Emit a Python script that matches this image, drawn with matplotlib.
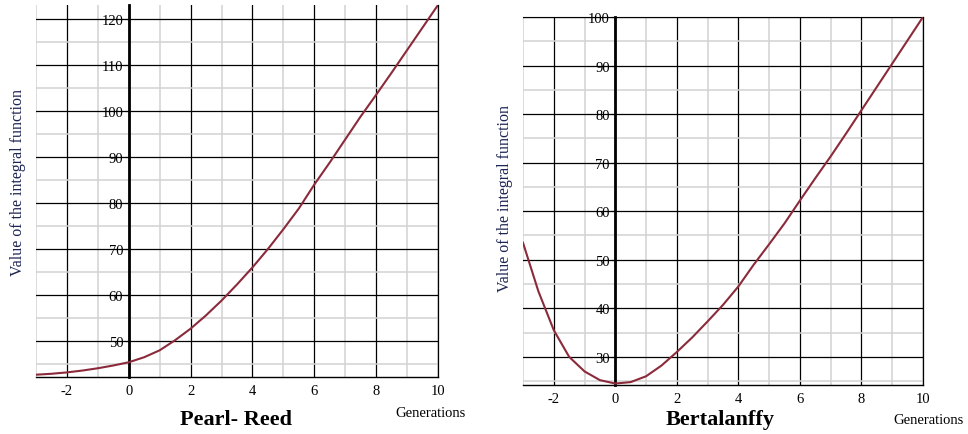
#!/usr/bin/env python3
"""
Two panels: value of the integral function vs generations (Pearl-Reed, Bertalanffy).
"""
import matplotlib.pyplot as plt
from matplotlib.ticker import MultipleLocator

generations = [-3, -2.5, -2, -1.5, -1, -0.5, 0, 0.5, 1, 1.5, 2, 2.5, 3, 3.5,
               4, 4.5, 5, 5.5, 6, 6.5, 7, 7.5, 8, 8.5, 9, 9.5, 10]
pearl_reed = [42.7, 42.9, 43.2, 43.6, 44.1, 44.7, 45.4, 46.5, 48.0, 50.2,
              52.7, 55.6, 58.8, 62.3, 66.0, 70.0, 74.3, 78.8, 84.0, 88.8,
              93.8, 98.8, 103.5, 108.3, 113.2, 118.1, 123.0]
bertalanffy = [53.5, 43.5, 35.5, 30.0, 27.0, 25.2, 24.5, 24.8, 26.0, 28.2,
               31.0, 34.0, 37.3, 40.7, 44.5, 49.0, 53.2, 57.5, 62.2, 66.8,
               71.3, 76.0, 80.8, 85.6, 90.4, 95.2, 100.0]

plt.rcParams['font.family'] = ['Liberation Serif', 'DejaVu Serif']
plt.rcParams['axes.unicode_minus'] = False

W, H = 968, 435
fig = plt.figure(figsize=(W / 100, H / 100), dpi=100)

# values, title, axes box in pixels (left, right, top, bottom), ylim,
# top line, ylabel x, ylabel centre y, title x, generations right edge / y
panels = [
    (pearl_reed, 'Pearl- Reed', (36, 438, 6, 378), (42.2, 123), False,
     26, 183, 236, 466, 414),
    (bertalanffy, 'Bertalanffy', (523, 923, 18, 386), (24.2, 100), True,
     513, 199, 720, 964, 421),
]

for (values, title, (x0, x1, y0, y1), ylim, top_line,
     lab_x, lab_y, title_x, gen_x, gen_y) in panels:
    ax = fig.add_axes([x0 / W, 1 - y1 / H, (x1 - x0) / W, (y1 - y0) / H])
    ax.set_xlim(-3, 10)
    ax.set_ylim(*ylim)

    ax.xaxis.set_major_locator(MultipleLocator(2))
    ax.xaxis.set_minor_locator(MultipleLocator(1))
    ax.yaxis.set_major_locator(MultipleLocator(10))
    ax.yaxis.set_minor_locator(MultipleLocator(5))
    ax.grid(which='minor', color='#d2d2d2', linewidth=1.1)
    ax.grid(which='major', color='black', linewidth=0.9)
    ax.set_axisbelow(True)

    ax.plot(generations, values, color='#8b2a3a', linewidth=1.5, zorder=3)

    ax.spines['left'].set_position(('data', 0))
    ax.spines['left'].set_linewidth(2)
    ax.spines['top'].set_visible(top_line)
    ax.spines['bottom'].set_linewidth(1)
    ax.spines['right'].set_linewidth(0.9)

    ax.tick_params(axis='y', which='major', direction='out', length=3,
                   width=0.8, labelsize=10.5, pad=1)
    ax.tick_params(axis='x', which='major', length=0, labelsize=10.5, pad=5)
    ax.tick_params(which='minor', length=0)

    ax.set_ylabel('Value of the integral function', fontsize=11.5,
                  color='#1c2452')
    ax.yaxis.set_label_coords(lab_x / W, 1 - lab_y / H,
                              transform=fig.transFigure)

    fig.text(title_x / W, 1 - 420 / H, title, fontsize=16,
             fontweight='bold', ha='center', va='center')
    fig.text(gen_x / W, 1 - gen_y / H, 'Generations', fontsize=10.5,
             ha='right', va='center')

fig.savefig('out.png', dpi=100)
